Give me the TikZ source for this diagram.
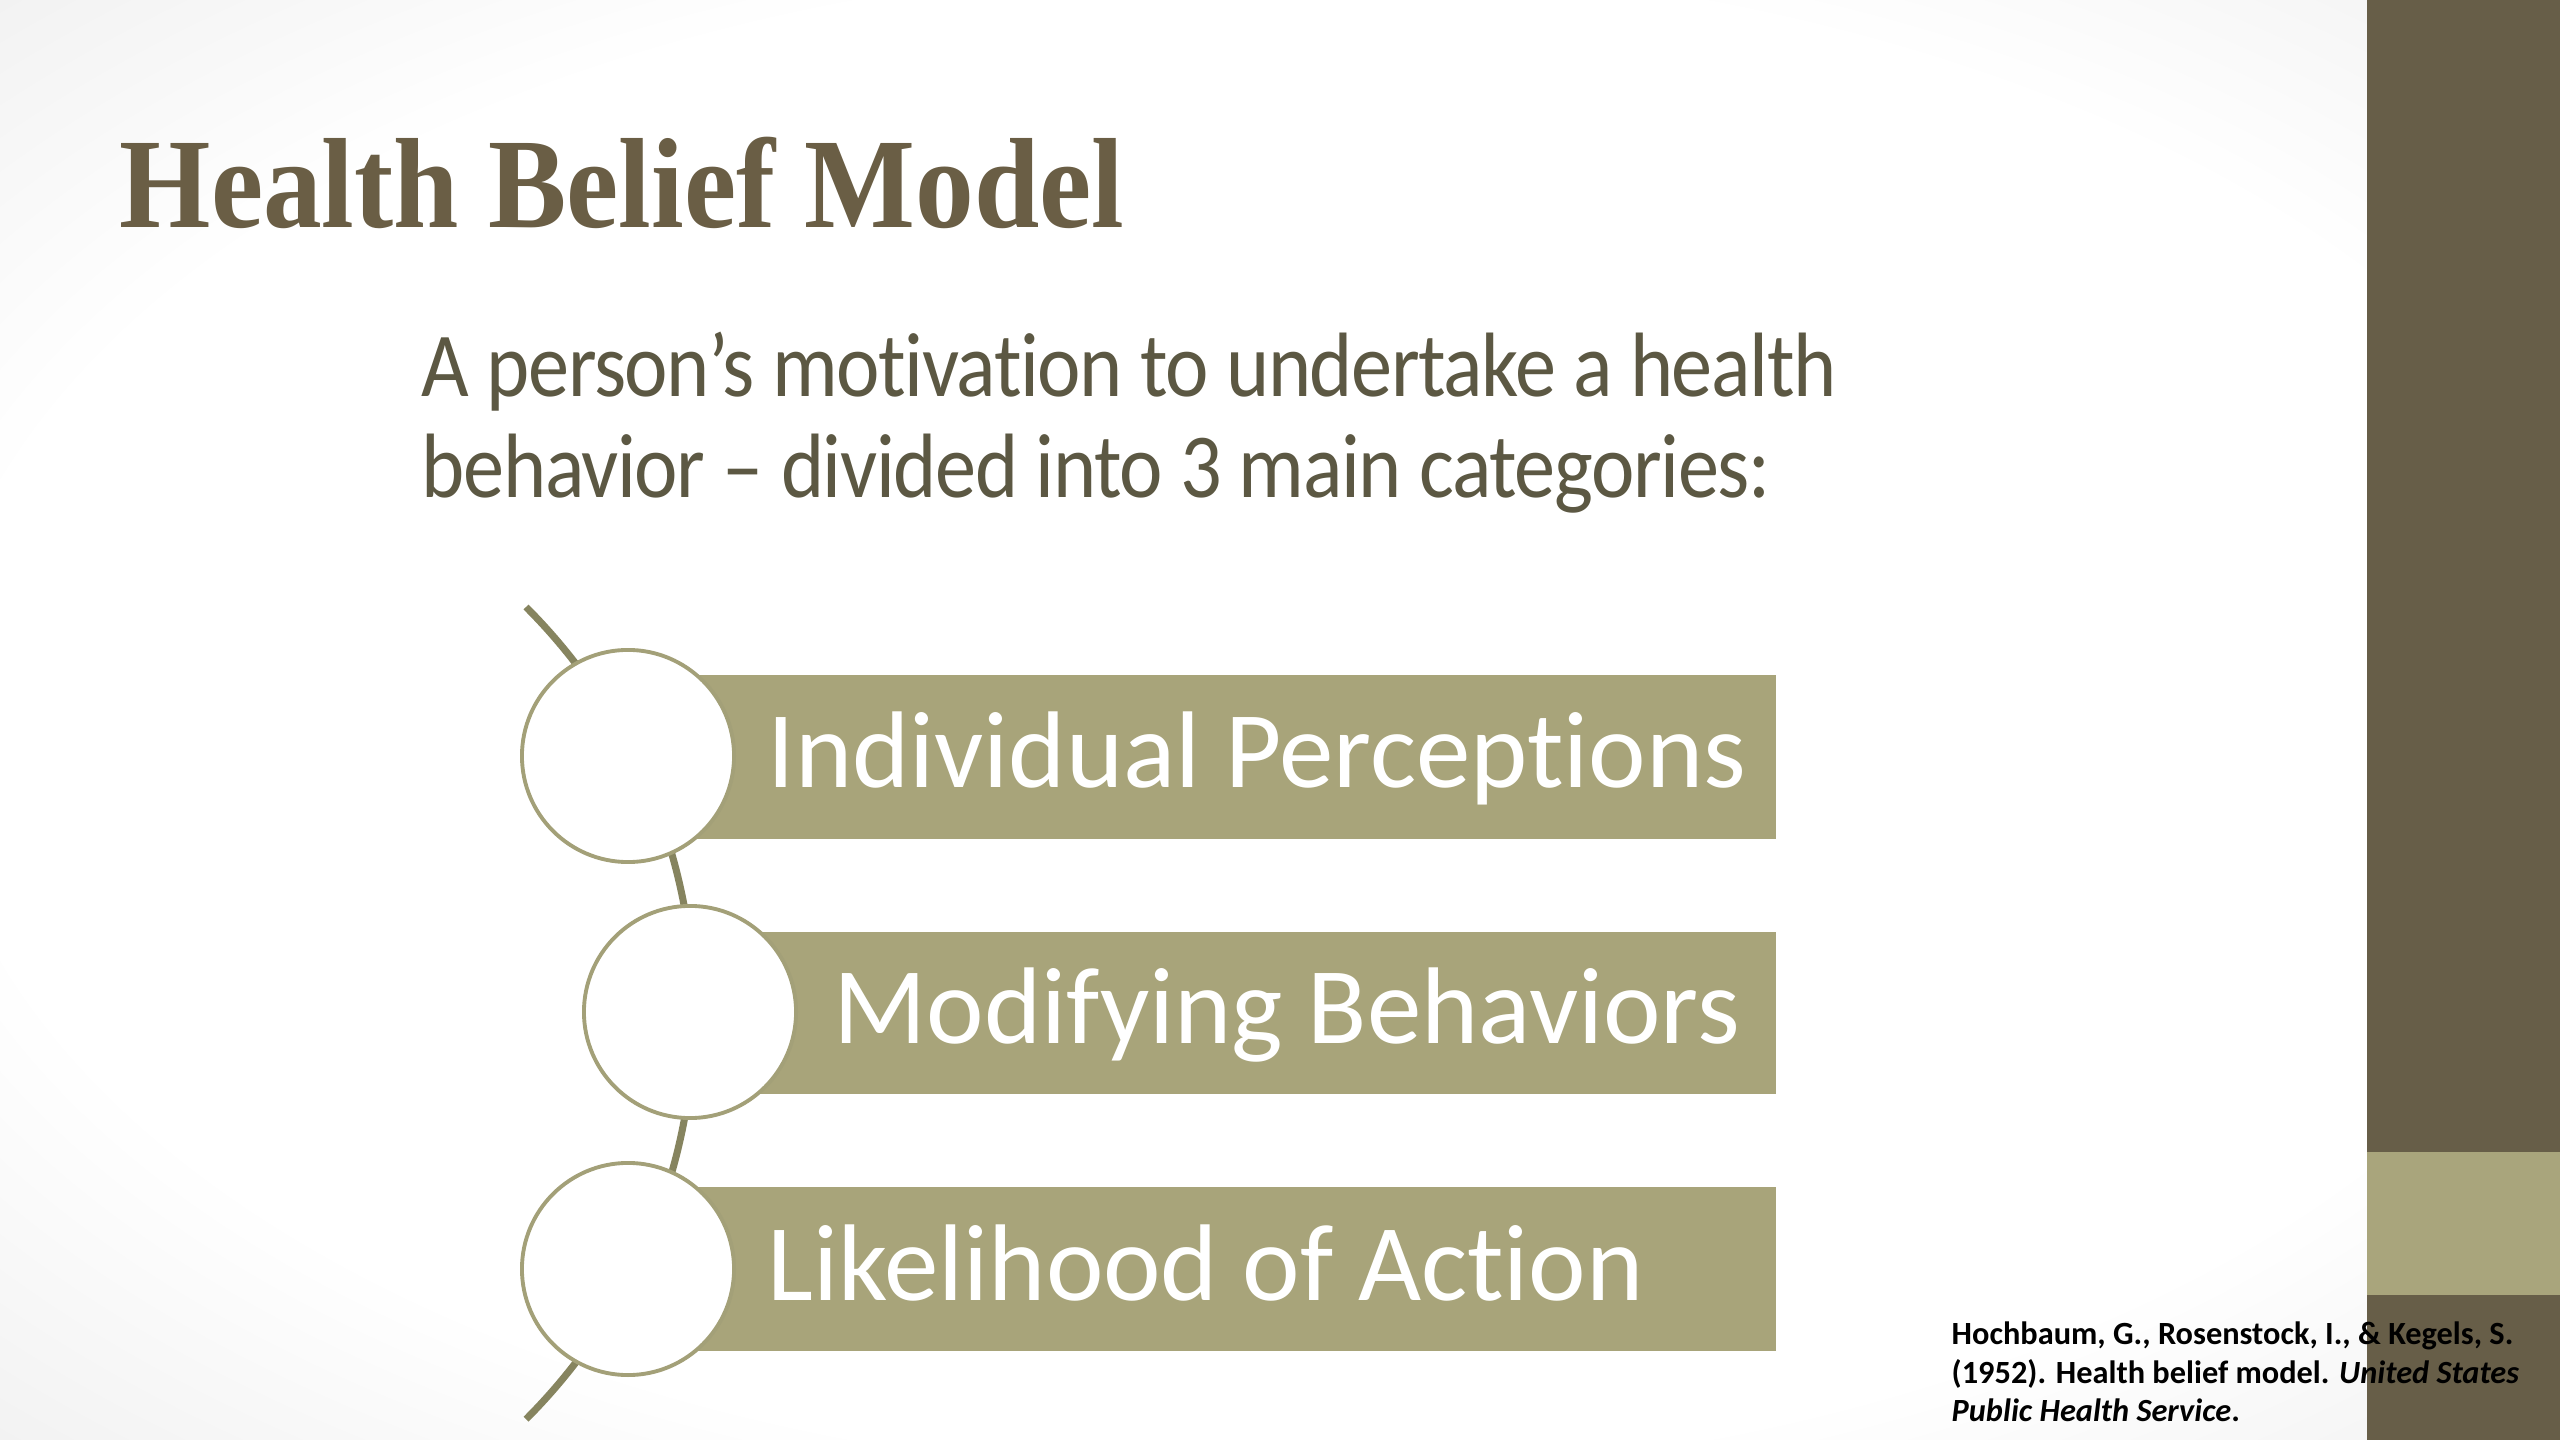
\documentclass[tikz,border=0pt]{standalone}
\usepackage{fontspec}
\setmainfont{Carlito}[Ligatures=NoCommon]
\newfontfamily\subfont{Carlito}[Ligatures=NoCommon, FakeStretch=0.9, LetterSpace=-1.5]
\newfontfamily\titlefont[FakeStretch=0.915]{Liberation Serif}
\definecolor{rectfill}{HTML}{A8A47A}
\definecolor{arccol}{HTML}{86845F}
\definecolor{circcol}{HTML}{A3A078}
\definecolor{titlecol}{HTML}{6A5E45}
\definecolor{subcol}{HTML}{5C5843}
\definecolor{bardark}{HTML}{675E48}
\definecolor{barlight}{HTML}{A9A57C}
\pgfdeclareradialshading{vign}{\pgfpoint{0bp}{0bp}}{color(0bp)=(white); color(26bp)=(white); color(50bp)=(black!13); color(72bp)=(black!22)}
\begin{document}
\begin{tikzpicture}[x=0.01cm,y=-0.01cm,
  catbox/.style={rectangle, fill=rectfill, draw=none, inner sep=0pt, minimum height=1.64cm},
  bead/.style={circle, fill=white, draw=circcol, line width=1.1pt, minimum size=2.12cm, inner sep=0pt},
  cattext/.style={anchor=base west, inner sep=0pt, text=white, font=\fontsize{31}{36}\selectfont},
  subtext/.style={anchor=base west, inner sep=0pt, text=subcol, font=\subfont\fontsize{26}{30}\selectfont},
  citetext/.style={anchor=base west, inner sep=0pt, text=black, font=\bfseries\fontsize{9.2}{11}\selectfont}]
\useasboundingbox (0,0) rectangle (2560,1440);
\shade[shading=vign] (0,0) rectangle (2560,1440);
% title
\node[anchor=base west, inner sep=0pt, text=titlecol, font=\titlefont\bfseries\fontsize{36.5}{40}\selectfont] (title) at (119,228) {Health Belief Model};
% subtitle
\node[subtext] (sub1) at (421,397) {A person’s motivation to undertake a health};
\node[subtext] (sub2) at (421,498) {behavior – divided into 3 main categories:};
% arc
\draw[arccol, line width=2pt] (526,607) arc[start angle=45, end angle=-45, radius=5.74cm];
% boxes
\node[catbox, minimum width=11.48cm] (box1) at (1202,757) {};
\node[catbox, minimum width=10.86cm, minimum height=1.62cm] (box2) at (1233,1013) {};
\node[catbox, minimum width=11.48cm] (box3) at (1202,1269) {};
% beads
\node[bead] (c1) at (628,756) {};
\node[bead] (c2) at (690,1012) {};
\node[bead] (c3) at (628,1269) {};
% labels
\node[cattext] (t1) at (767,788) {Individual Perceptions};
\node[cattext] (t2) at (833,1044) {Modifying Behaviors};
\node[cattext] (t3) at (767,1300) {Likelihood of Action};
% right bar
\fill[bardark] (2367,0) rectangle (2560,1152);
\fill[barlight] (2367,1152) rectangle (2560,1295);
\fill[bardark] (2367,1295) rectangle (2560,1440);
% citation
\node[citetext] (cite1) at (1951,1344) {Hochbaum, G., Rosenstock, I., \& Kegels, S.};
\node[citetext] (cite2) at (1951,1383) {(1952). Health belief model. \textit{United States}};
\node[citetext] (cite3) at (1951,1421) {\textit{Public Health Service}.};
\end{tikzpicture}
\end{document}
